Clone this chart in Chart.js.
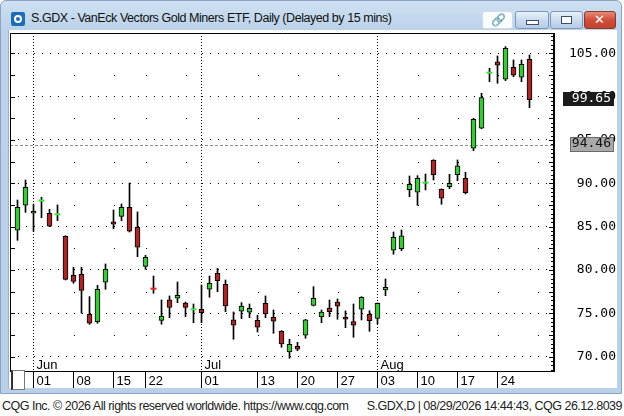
<!DOCTYPE html>
<html>
<head>
<meta charset="utf-8">
<script src="https://cdn.jsdelivr.net/npm/chart.js@4/dist/chart.umd.min.js"></script>
<style>
html, body { margin: 0; padding: 0; }
body { width: 624px; height: 416px; position: relative; overflow: hidden; background: #fff; font-family: "Liberation Sans", sans-serif; }
#win { position: absolute; left: 0; top: 0; width: 620px; height: 392px; border: 1px solid #8aa3c0; border-radius: 6px 6px 0 0;
  background: linear-gradient(#cfe0f2, #bcd2ea 28px, #b9d0e9); }
#icon { position: absolute; left: 10px; top: 11px; width: 14px; height: 14px; background: #1d6db4; border-radius: 2px; }
#icon div { position: absolute; left: 3px; top: 3px; width: 4px; height: 4px; border: 2px solid #fff; border-radius: 50%; }
#title { position: absolute; left: 30px; top: 10px; font-size: 12.5px; letter-spacing: -0.45px; color: #111; white-space: nowrap; }
.btn { position: absolute; top: 10px; height: 16px; border: 1px solid #7f97b5; border-radius: 3px; background: linear-gradient(#eaf2fb, #c9dbef 50%, #b6cce6); }
#b0 { left: 481px; width: 29px; background: #fafcfe; border-color: #d0dbe8; }
#b1 { left: 514px; width: 32px; }
#b2 { left: 549px; width: 31px; }
#b3 { left: 583px; width: 30px; background: linear-gradient(#e48a78, #cf4f3a 50%, #c0412c); border-color: #8a3a30; }
#b1 div { position: absolute; left: 10px; top: 8px; width: 11px; height: 3px; border: 1px solid #3a5070; background: #fff; }
#b2 div { position: absolute; left: 10px; top: 4px; width: 9px; height: 6px; border: 1px solid #3a5070; background: #fff; }
#b3 span { position: absolute; left: 9px; top: 0px; color: #fff; font: bold 13px "DejaVu Sans", sans-serif; }
#b0 span { position: absolute; left: 8px; top: 1px; color: #888; font-size: 12px; }
#client { position: absolute; left: 8px; top: 30px; width: 608px; height: 358px; background: #fff; border-left: 1px solid #9fb0c4; }
#chart { position: absolute; left: 10px; top: 33px; }
#corner { position: absolute; left: 11px; top: 370px; width: 11px; height: 18px; background: #fff; border: 1px solid #777; border-left: 2px solid #333; }
#status { position: absolute; left: 0; top: 394px; width: 624px; height: 22px; background: #fff; font-size: 12.5px; letter-spacing: -0.5px; color: #222; }
#status .l { position: absolute; left: 2px; top: 5px; white-space: nowrap; }
#status .r { position: absolute; right: 2px; top: 5px; white-space: nowrap; }
</style>
</head>
<body>
<div id="win">
  <div id="icon"><div></div></div>
  <div id="title">S.GDX - VanEck Vectors Gold Miners ETF, Daily (Delayed by 15 mins)</div>
  <div class="btn" id="b0"><span>&#x1F517;</span></div>
  <div class="btn" id="b1"><div></div></div>
  <div class="btn" id="b2"><div></div></div>
  <div class="btn" id="b3"><span>&#x2715;</span></div>
</div>
<div id="client"></div>
<canvas id="chart" width="606" height="355"></canvas>
<div id="corner"></div>
<div id="status">
  <span class="l">CQG Inc. &copy; 2026 All rights reserved worldwide. https://www.cqg.com</span>
  <span class="r">S.GDX,D | 08/29/2026 14:44:43, CQG 26.12.8039</span>
</div>
<script>
// daily bars, MM/DD
var dates = ['05/28','05/29','06/01','06/02','06/03','06/04','06/05','06/08','06/09','06/10',
  '06/11','06/12','06/15','06/16','06/17','06/18','06/22','06/23','06/24','06/25',
  '06/26','06/29','06/30','07/01','07/02','07/06','07/07','07/08','07/09','07/10',
  '07/13','07/14','07/15','07/16','07/17','07/20','07/21','07/22','07/23','07/24',
  '07/27','07/28','07/29','07/30','07/31','08/03','08/04','08/05','08/06','08/07',
  '08/10','08/11','08/12','08/13','08/14','08/17','08/18','08/19','08/20','08/21',
  '08/24','08/25','08/26','08/27','08/28'];
var future = ['08/31','09/01','09/02'];

var open = [84.58,87.46,86.54,88.00,86.54,86.42,83.89,79.39,79.50,74.89,
  74.03,78.58,85.54,86.19,87.23,84.92,80.42,77.84,74.19,76.54,
  76.73,76.19,75.46,75.46,77.77,79.62,78.35,74.23,75.23,75.12,
  74.19,76.15,74.54,72.92,70.54,71.19,72.46,75.92,74.57,75.61,
  76.30,74.57,74.03,75.46,74.89,74.42,77.69,82.27,82.45,89.26,
  88.96,90.07,92.69,89.31,89.61,90.99,90.58,94.04,96.35,102.76,
  104.00,102.00,103.38,102.23,104.31];
var high = [88.07,90.38,87.61,88.39,87.00,87.50,83.95,80.31,80.31,76.92,
  78.23,80.69,86.92,87.61,90.03,86.69,81.69,79.30,76.54,77.00,
  78.61,76.30,76.07,78.27,79.30,80.19,78.84,75.15,76.23,76.07,
  74.77,77.00,75.38,73.00,72.00,71.65,74.31,78.07,75.38,76.54,
  76.65,75.27,76.07,76.92,75.30,76.20,78.96,84.38,84.61,90.84,
  90.88,91.07,92.72,89.35,91.04,92.69,91.27,97.50,100.38,103.27,
  104.69,105.77,104.23,104.23,104.80];
var low = [83.42,86.65,84.46,86.03,85.00,85.69,78.84,78.46,75.00,73.73,
  73.85,77.77,84.76,85.69,84.38,81.53,80.08,77.31,73.73,74.49,
  76.22,74.61,73.92,73.92,76.85,77.49,75.19,72.00,74.38,74.49,
  72.84,74.49,72.69,71.08,69.81,70.69,72.12,75.85,73.92,74.61,
  74.31,73.34,72.23,74.23,72.92,73.77,77.03,81.81,82.22,88.45,
  87.46,89.23,90.38,87.58,89.38,90.30,88.77,93.76,96.30,101.72,
  101.54,101.84,102.30,101.72,98.72];
var close = [87.23,89.54,86.77,88.00,85.04,86.42,78.92,78.69,77.65,73.85,
  77.77,80.11,85.27,87.23,84.46,82.62,81.46,77.84,74.69,75.69,
  77.08,75.69,75.46,75.07,78.46,78.76,75.84,73.62,75.84,75.58,
  73.39,74.92,74.08,71.46,71.42,70.85,74.23,76.73,75.15,75.19,
  75.81,74.31,73.62,76.85,74.15,76.15,78.00,83.77,83.95,89.88,
  90.58,90.07,90.99,88.27,90.00,92.00,88.92,97.38,99.88,102.76,
  103.62,105.58,102.46,103.73,99.65];
var downFlats = ['06/23'];

var tickDays = ['06/01','06/08','06/15','06/22','07/01','07/13','07/20','07/27','08/03','08/10','08/17','08/24'];
var monthStarts = ['06/01','07/01','08/03'];
var monthNames = ['Jun','Jul','Aug'];
var dotWeeks = ['06/08','06/15','06/22','06/29','07/13','07/20','07/27','08/10','08/17','08/24','08/31'];
var refLine = 94.46;

var allDays = dates.concat(future);
var green = '#3cc63c', red = '#a82828', flatGreen = '#3ee43e', flatRed = '#e82828';

var wicks = [], bodies = [], bodyColors = [], flats = [], flatColors = [];
for (var i = 0; i < dates.length; i++) {
  wicks.push({x: i, y: [low[i], high[i]]});
  if (open[i] === close[i]) {
    flats.push({x: i, y: close[i]});
    flatColors.push(downFlats.indexOf(dates[i]) >= 0 ? flatRed : flatGreen);
  } else {
    bodies.push({x: i, y: [open[i], close[i]]});
    bodyColors.push(close[i] > open[i] ? green : red);
  }
}

function noPadding(axis) {
  axis.paddingLeft = 0;
  axis.paddingRight = 0;
  axis.paddingTop = 0;
  axis.paddingBottom = 0;
}

var extras = {
  id: 'extras',
  beforeDatasetsDraw: function(chart) {
    var ctx = chart.ctx, a = chart.chartArea;
    var xs = chart.scales.x, ys = chart.scales.y;
    ctx.save();
    // small grid dots between the dotted lines
    ctx.fillStyle = '#000';
    dotWeeks.forEach(function(d) {
      var px = Math.round(xs.getPixelForValue(allDays.indexOf(d)));
      for (var v = 72.5; v < ys.max; v += 5) {
        ctx.fillRect(px, Math.round(ys.getPixelForValue(v)), 1, 1);
      }
    });
    // horizontal reference line
    var ry = Math.round(ys.getPixelForValue(refLine)) + 0.5;
    ctx.strokeStyle = '#8c8c8c';
    ctx.lineWidth = 1;
    ctx.setLineDash([3, 2]);
    ctx.beginPath();
    ctx.moveTo(a.left, ry);
    ctx.lineTo(a.right, ry);
    ctx.stroke();
    ctx.setLineDash([]);
    // month names
    ctx.font = '13px "Liberation Sans"';
    ctx.textBaseline = 'alphabetic';
    monthStarts.forEach(function(d, k) {
      ctx.fillText(monthNames[k], xs.getPixelForValue(dates.indexOf(d)) + 3, a.bottom - 2);
    });
    ctx.restore();
  },
  afterDraw: function(chart) {
    var ctx = chart.ctx, a = chart.chartArea;
    var ys = chart.scales.y;
    ctx.save();
    ctx.strokeStyle = '#000';
    ctx.lineWidth = 1;
    ctx.beginPath();
    ctx.moveTo(a.left + 0.5, a.bottom + 0.5);
    ctx.lineTo(a.left + 0.5, a.top + 0.5);
    ctx.lineTo(a.right, a.top + 0.5);
    ctx.moveTo(a.left, a.bottom + 0.5);
    ctx.lineTo(a.right, a.bottom + 0.5);
    ctx.stroke();
    ctx.lineWidth = 2;
    ctx.beginPath();
    ctx.moveTo(a.right, a.top);
    ctx.lineTo(a.right, a.bottom + 1);
    ctx.stroke();
    // inner tick marks
    ctx.lineWidth = 1;
    ctx.beginPath();
    for (var v = Math.ceil(ys.min * 2) / 2; v <= ys.max; v += 0.5) {
      var y = Math.round(ys.getPixelForValue(v)) + 0.5;
      var major = Math.abs(v / 2.5 - Math.round(v / 2.5)) < 1e-6;
      ctx.moveTo(a.right - (major ? 5 : 3), y);
      ctx.lineTo(a.right, y);
      if (major) {
        ctx.moveTo(a.left, y);
        ctx.lineTo(a.left + 5, y);
      }
    }
    ctx.stroke();
    // price boxes
    ctx.font = '13px "DejaVu Sans Mono"';
    ctx.textAlign = 'right';
    ctx.textBaseline = 'middle';
    var last = close[close.length - 1];
    var py = ys.getPixelForValue(last);
    ctx.fillStyle = '#1b1b1b';
    ctx.fillRect(a.right + 9, Math.round(py - 8), 51, 14);
    ctx.fillStyle = '#fff';
    ctx.fillText(last.toFixed(2), a.right + 57, py - 1);
    var gy = ys.getPixelForValue(refLine);
    ctx.fillStyle = '#a9a9a9';
    ctx.fillRect(a.right + 16, Math.round(gy - 8), 44, 15);
    ctx.strokeStyle = '#6a6a6a';
    ctx.strokeRect(a.right + 16.5, Math.round(gy - 8) + 0.5, 43, 14);
    ctx.fillStyle = '#111';
    ctx.fillText(refLine.toFixed(2), a.right + 57, gy - 1);
    ctx.restore();
  }
};

new Chart(document.getElementById('chart'), {
  type: 'bar',
  data: {
    datasets: [
      { type: 'line', data: flats, showLine: false, pointStyle: 'line', pointRadius: 3,
        pointBorderWidth: 2, pointBorderColor: flatColors, pointBackgroundColor: flatColors, order: 1 },
      { data: bodies, backgroundColor: bodyColors, borderColor: '#000', borderWidth: 1,
        borderSkipped: false, barThickness: 5, grouped: false, order: 2 },
      { data: wicks, backgroundColor: '#000', barThickness: 1, grouped: false, order: 3 }
    ]
  },
  options: {
    responsive: false,
    animation: false,
    events: [],
    layout: { padding: 0, autoPadding: false },
    plugins: { legend: { display: false }, tooltip: { enabled: false } },
    scales: {
      x: {
        type: 'linear',
        offset: false,
        min: -0.9375,
        max: 67.0625,
        afterBuildTicks: function(axis) {
          axis.ticks = tickDays.map(function(d) { return { value: dates.indexOf(d) }; });
        },
        afterFit: function(axis) { axis.height = 17; noPadding(axis); },
        ticks: {
          autoSkip: false,
          maxRotation: 0,
          align: 'start',
          labelOffset: 3,
          padding: -14,
          color: '#000',
          font: { family: 'Liberation Sans', size: 13 },
          callback: function(v) { return allDays[v] ? allDays[v].slice(3) : ''; }
        },
        grid: {
          color: function(c) {
            return c.tick && monthStarts.indexOf(allDays[c.tick.value]) >= 0 ? '#000' : 'rgba(0,0,0,0)';
          },
          tickColor: '#000',
          tickLength: 17,
          tickBorderDash: [],
          offset: false
        },
        border: { display: false, dash: [1, 2] }
      },
      y: {
        position: 'right',
        min: 68.34,
        max: 107.34,
        afterFit: function(axis) { axis.width = 62; noPadding(axis); },
        ticks: {
          stepSize: 5,
          includeBounds: false,
          crossAlign: 'far',
          padding: 10,
          color: '#000',
          font: { family: 'DejaVu Sans Mono', size: 13 },
          callback: function(v) { return v.toFixed(2); }
        },
        grid: { color: '#000', drawTicks: false },
        border: { display: false, dash: [1, 7] }
      }
    }
  },
  plugins: [extras]
});
</script>
</body>
</html>
